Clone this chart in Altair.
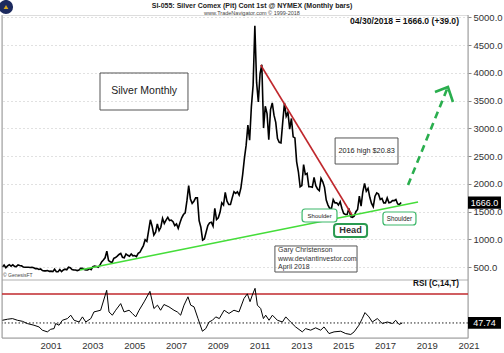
import altair as alt
import pandas as pd

FONT = "Liberation Sans"

# ---------------- data ----------------
# Monthly closes (chart units = US$ x 100); 1999 starts in March, 2018 ends in April
p1999 = [505, 540, 490, 525, 545, 520, 545, 515, 510, 540]
p2000 = [530, 525, 505, 500, 500, 500, 495, 500, 490, 475, 475, 460]
p2001 = [470, 440, 435, 435, 440, 425, 430, 420, 465, 420, 420, 460]
p2002 = [420, 450, 465, 455, 500, 490, 460, 450, 450, 440, 450, 480]
p2003 = [480, 460, 450, 450, 475, 455, 510, 520, 515, 500, 535, 595]
p2004 = [630, 670, 790, 620, 600, 585, 660, 675, 700, 730, 750, 680]
p2005 = [670, 740, 715, 700, 740, 705, 710, 690, 750, 770, 830, 890]
p2006 = [995, 965, 1160, 1355, 1240, 1080, 1130, 1280, 1160, 1220, 1380, 1290]
p2007 = [1350, 1400, 1340, 1350, 1320, 1250, 1280, 1200, 1300, 1390, 1450, 1480]
p2008 = [1700, 1970, 1730, 1650, 1690, 1750, 1750, 1340, 1220, 990, 1010, 1130]
p2009 = [1250, 1300, 1310, 1240, 1560, 1360, 1390, 1490, 1660, 1620, 1850, 1690]
p2010 = [1630, 1630, 1750, 1860, 1830, 1860, 1800, 1930, 2170, 2460, 2700, 3060]
p2011 = [2790, 3390, 3780, 4850, 3830, 3480, 3990, 4150, 3010, 3400, 3270, 2800]
p2012 = [3340, 3460, 3240, 3110, 2820, 2750, 2740, 3110, 3460, 3220, 3290, 2990]
p2013 = [3180, 2850, 2830, 2400, 2220, 1950, 1970, 2350, 2170, 2190, 1950, 1950]
p2014 = [1940, 2120, 1970, 1910, 1880, 2100, 2040, 1940, 1710, 1620, 1560, 1560]
p2015 = [1720, 1660, 1660, 1620, 1680, 1560, 1470, 1450, 1450, 1560, 1410, 1400]
p2016 = [1420, 1500, 1540, 1780, 1600, 1860, 2010, 1870, 1920, 1760, 1650, 1590]
p2017 = [1780, 1840, 1820, 1720, 1740, 1660, 1660, 1750, 1660, 1670, 1700, 1700]
p2018 = [1720, 1640, 1630, 1666]

price_years = {1999: p1999, 2000: p2000, 2001: p2001, 2002: p2002, 2003: p2003,
               2004: p2004, 2005: p2005, 2006: p2006, 2007: p2007, 2008: p2008,
               2009: p2009, 2010: p2010, 2011: p2011, 2012: p2012, 2013: p2013,
               2014: p2014, 2015: p2015, 2016: p2016, 2017: p2017, 2018: p2018}

# RSI (C,14,T)
rsi_t = [1999.17, 1999.41, 1999.65, 1999.89, 2000.13, 2000.36, 2000.68, 2000.92, 2001.08, 2001.32,
         2001.48, 2001.64, 2001.72, 2001.88, 2002.04, 2002.28, 2002.44, 2002.60, 2002.84, 2003.00,
         2003.16, 2003.40, 2003.55, 2003.87, 2004.16, 2004.27, 2004.43, 2004.59, 2004.83, 2004.99,
         2005.23, 2005.39, 2005.55, 2005.71, 2005.95, 2006.23, 2006.42, 2006.59, 2006.74, 2006.90,
         2007.14, 2007.38, 2007.54, 2007.70, 2007.86, 2008.05, 2008.18, 2008.34, 2008.53, 2008.74,
         2008.90, 2009.06, 2009.22, 2009.38, 2009.55, 2009.78, 2010.01, 2010.25, 2010.49, 2010.73,
         2010.89, 2011.02, 2011.13, 2011.26, 2011.37, 2011.53, 2011.66, 2011.77, 2011.93, 2012.09,
         2012.33, 2012.57, 2012.73, 2012.96, 2013.20, 2013.52, 2013.68, 2013.92, 2014.16, 2014.40,
         2014.56, 2014.80, 2015.04, 2015.36, 2015.60, 2015.84, 2016.00, 2016.23, 2016.39, 2016.52,
         2016.71, 2016.87, 2017.11, 2017.35, 2017.59, 2017.83, 2017.99, 2018.15, 2018.31]
rsi_v = [49.8, 50.6, 51.1, 49.8, 49.0, 47.3, 46.0, 44.7, 42.2, 40.9,
         42.9, 43.4, 47.3, 46.0, 49.8, 51.1, 53.7, 49.8, 48.5, 52.4,
         48.5, 51.1, 56.2, 57.5, 72.8, 56.2, 53.7, 57.5, 62.6, 56.2,
         57.5, 55.0, 52.4, 57.5, 63.9, 72.0, 58.8, 61.4, 57.5, 61.9,
         60.1, 57.5, 56.2, 53.7, 61.4, 67.8, 61.4, 60.1, 51.1, 41.4,
         43.4, 48.5, 49.8, 52.4, 51.1, 57.5, 55.0, 57.5, 56.2, 66.5,
         70.1, 64.1, 69.2, 74.3, 61.4, 58.8, 51.1, 53.7, 49.8, 53.7,
         49.8, 48.5, 52.4, 48.5, 44.7, 40.9, 43.4, 42.2, 44.0, 42.2,
         44.7, 39.6, 40.9, 41.4, 39.6, 38.9, 40.9, 46.0, 51.1, 55.7,
         52.4, 48.5, 51.1, 47.3, 48.5, 47.3, 49.8, 46.6, 47.74]

last_price = 1666.0
last_rsi = 47.74
rsi_level = 70

price_ticks = [500, 1000, 1500, 2000, 2500, 3000, 3500, 4000, 4500, 5000]
grid_years = list(range(2000, 2022))
label_years = [2001, 2003, 2005, 2007, 2009, 2011, 2013, 2015, 2017, 2019, 2021]

# drawn lines (year, price)
red_line_t = [2011.53, 2015.90]
red_line_v = [4144, 1441]
green_line_t = [2002.88, 2019.06]
green_line_v = [450, 1676]
arrow_t = [2018.58, 2020.49]
arrow_v = [1982, 3748]
arrowhead_t = [2019.87, 2020.49, 2020.73]
arrowhead_v = [3658, 3748, 3477]

# ---------------- tables ----------------
rows = []
for yr, vals in price_years.items():
    m0 = 3 if yr == 1999 else 1
    for i, v in enumerate(vals):
        rows.append({"t": yr + (m0 - 1 + i) / 12.0, "v": v})
price_df = pd.DataFrame(rows)
rsi_df = pd.DataFrame({"t": rsi_t, "r": rsi_v})

xs = alt.Scale(domain=[1999.15, 2021.45], nice=False, zero=False)
ps = alt.Scale(domain=[270, 5045], range=[265, 0], nice=False, zero=False)
rs = alt.Scale(domain=[36.2, 80.7], range=[323, 265], nice=False, zero=False)


def X(field="t"):
    return alt.X(f"{field}:Q", scale=xs, axis=None)


def YP(field="v"):
    return alt.Y(f"{field}:Q", scale=ps, axis=None)


def YR(field="r"):
    return alt.Y(f"{field}:Q", scale=rs, axis=None)


GRID = dict(grid=True, gridColor="#c2c2c2", gridDash=[1, 3], gridWidth=1)

price_line = alt.Chart(price_df).mark_line(color="black", strokeWidth=1.6).encode(
    x=alt.X("t:Q", scale=xs,
            axis=alt.Axis(values=grid_years, labels=False, ticks=False, domain=False,
                          title=None, **GRID)),
    y=alt.Y("v:Q", scale=ps,
            axis=alt.Axis(orient="right", values=price_ticks, format=".1f", title=None,
                          labelFont=FONT, labelFontSize=9.5, labelColor="#333",
                          labelPadding=2, tickSize=3, tickColor="#888",
                          domain=False, **GRID)),
)

rsi_line = alt.Chart(rsi_df).mark_line(color="black", strokeWidth=1).encode(x=X(), y=YR())

rsi_red = alt.Chart(pd.DataFrame({"r": [rsi_level]})).mark_rule(
    color="#c0282d", strokeWidth=1.5).encode(y=YR())
rsi_last = alt.Chart(pd.DataFrame({"r": [last_rsi]})).mark_rule(
    color="#222", strokeWidth=1, strokeDash=[1.5, 2]).encode(y=YR())

frame = alt.Chart(pd.DataFrame({"a": [0]}))
sep = frame.mark_rule(color="#b0b0b0", strokeWidth=1).encode(y=alt.value(265))
left_border = frame.mark_rule(color="#9a9a9a", strokeWidth=1).encode(x=alt.value(0))
right_border = frame.mark_rule(color="#9a9a9a", strokeWidth=1).encode(x=alt.value(466))
bottom_border = frame.mark_rule(color="#9a9a9a", strokeWidth=1).encode(y=alt.value(323))

red_df = pd.DataFrame({"t": red_line_t, "v": red_line_v})
red = alt.Chart(red_df).mark_line(color="#c0282d", strokeWidth=1.6).encode(x=X(), y=YP())
green_df = pd.DataFrame({"t": green_line_t, "v": green_line_v})
green = alt.Chart(green_df).mark_line(color="#45dd3a", strokeWidth=1.6).encode(x=X(), y=YP())
arrow_df = pd.DataFrame({"t": arrow_t, "v": arrow_v})
arrow = alt.Chart(arrow_df).mark_line(color="#2aae4e", strokeWidth=2.6,
                                      strokeDash=[7, 5]).encode(x=X(), y=YP())
ah_df = pd.DataFrame({"t": arrowhead_t, "v": arrowhead_v})
arrowhead = alt.Chart(ah_df).mark_line(color="#2aae4e", strokeWidth=2.6).encode(
    x=X(), y=YP(), order="t:Q")

# boxes (year/price coordinates)
box_df = pd.DataFrame({
    "t1": [2003.84, 2015.09, 2012.21],
    "t2": [2008.05, 2018.10, 2016.14],
    "v1": [4000, 2829, 883],
    "v2": [3333, 2360, 414],
})
boxes = alt.Chart(box_df).mark_rect(fill="transparent", stroke="#555", strokeWidth=1).encode(
    x=X("t1"), x2="t2", y=YP("v1"), y2="v2")

sh_df = pd.DataFrame({
    "t1": [2013.51, 2017.38], "t2": [2015.18, 2018.96],
    "v1": [1549, 1495], "v2": [1315, 1261],
})
shoulders = alt.Chart(sh_df).mark_rect(fill="white", stroke="#3cb86a", strokeWidth=1.2,
                                       cornerRadius=3).encode(
    x=X("t1"), x2="t2", y=YP("v1"), y2="v2")
head_df = pd.DataFrame({"t1": [2015.04], "t2": [2016.62], "v1": [1279], "v2": [1045]})
head = alt.Chart(head_df).mark_rect(fill="white", stroke="#2a9a50", strokeWidth=2,
                                    cornerRadius=3).encode(
    x=X("t1"), x2="t2", y=YP("v1"), y2="v2")


# text in year/price coordinates
def ptext(t, v, s, size, color="#222", weight="normal", align="center"):
    return alt.Chart(pd.DataFrame({"t": [t], "v": [v], "s": [s]})).mark_text(
        font=FONT, fontSize=size, color=color, fontWeight=weight, align=align,
        baseline="middle").encode(x=X(), y=YP(), text="s:N")


texts = [
    ptext(2005.95, 3667, "Silver Monthly", 10.5),
    ptext(2016.60, 2595, "2016 high $20.83", 7.3),
    ptext(2014.35, 1432, "Shoulder", 6),
    ptext(2018.17, 1378, "Shoulder", 6.3),
    ptext(2015.83, 1162, "Head", 9.2, weight="bold", color="#333"),
    ptext(2012.36, 811, "Gary Christenson", 7, color="#333", align="left"),
    ptext(2012.36, 657, "www.deviantinvestor.com", 7, color="#333", align="left"),
    ptext(2012.36, 504, "April 2018", 7, color="#333", align="left"),
]

# value flags on the right axis
flag_p = alt.Chart(pd.DataFrame({"v": [last_price]})).transform_calculate(
    hi="datum.v + 110", lo="datum.v - 110")
flag_p_box = flag_p.mark_rect(color="black").encode(
    x=alt.value(466), x2=alt.value(499), y=YP("hi"), y2="lo")
flag_p_txt = flag_p.mark_text(font=FONT, fontSize=9, color="white", align="center",
                              baseline="middle").encode(
    x=alt.value(482.5), y=YP("v"), text=alt.Text("v:Q", format=".1f"))
flag_r = alt.Chart(pd.DataFrame({"r": [last_rsi]})).transform_calculate(
    hi="datum.r + 4.5", lo="datum.r - 4.5")
flag_r_box = flag_r.mark_rect(color="black").encode(
    x=alt.value(466), x2=alt.value(499), y=YR("hi"), y2="lo")
flag_r_txt = flag_r.mark_text(font=FONT, fontSize=9, color="white", align="center",
                              baseline="middle").encode(
    x=alt.value(482.5), y=YR("r"), text=alt.Text("r:Q", format=".2f"))

# year labels
yl_df = pd.DataFrame({"y": label_years})
year_labels = alt.Chart(yl_df).transform_calculate(
    t="datum.y + 0.5", lab="'' + datum.y").mark_text(
    font=FONT, fontSize=9.5, color="#333", baseline="middle").encode(
    x=X(), y=alt.value(331), text="lab:N")


# page texts
def pix_text(x, y, s, size, weight="normal", align="center", color="#222"):
    return alt.Chart(pd.DataFrame({"s": [s]})).mark_text(
        font=FONT, fontSize=size, fontWeight=weight, align=align, baseline="middle",
        color=color).encode(x=alt.value(x), y=alt.value(y), text="s:N")


page_texts = [
    pix_text(250, -9, "SI-055:  Silver Comex (Pit) Cont 1st @ NYMEX  (Monthly bars)", 7, "bold"),
    pix_text(250, -2, "www.TradeNavigator.com \u00a9 1999-2018", 5.5, color="#444"),
    pix_text(457, 5.5, "04/30/2018 = 1666.0 (+39.0)", 8.6, "bold", "right", "#111"),
    pix_text(457, 269, "RSI (C,14,T)", 8.2, "bold", "right", "#111"),
    pix_text(1, 260, "\u00a9 GenesisFT", 5, "normal", "left", "#444"),
]

logo = frame.mark_point(filled=True, color="#1c2a5e", size=200, opacity=1).encode(
    x=alt.value(4), y=alt.value(-8))
logo2 = frame.mark_point(filled=True, color="#d9a920", size=22, shape="triangle-up",
                         opacity=1).encode(x=alt.value(4), y=alt.value(-8))

chart = alt.layer(
    price_line, sep, left_border, right_border, bottom_border,
    rsi_red, rsi_last, rsi_line,
    green, red, arrow, arrowhead,
    boxes, shoulders, head, *texts,
    flag_p_box, flag_p_txt, flag_r_box, flag_r_txt,
    year_labels, *page_texts, logo, logo2,
).resolve_scale(y="independent").properties(
    width=466, height=323,
    padding={"left": 2, "top": 15, "right": 36, "bottom": 15},
    autosize=alt.AutoSizeParams(type="none"),
).configure_view(strokeWidth=0).configure(background="white")

chart.save("out.html", embed_options={"renderer": "svg", "actions": False})
